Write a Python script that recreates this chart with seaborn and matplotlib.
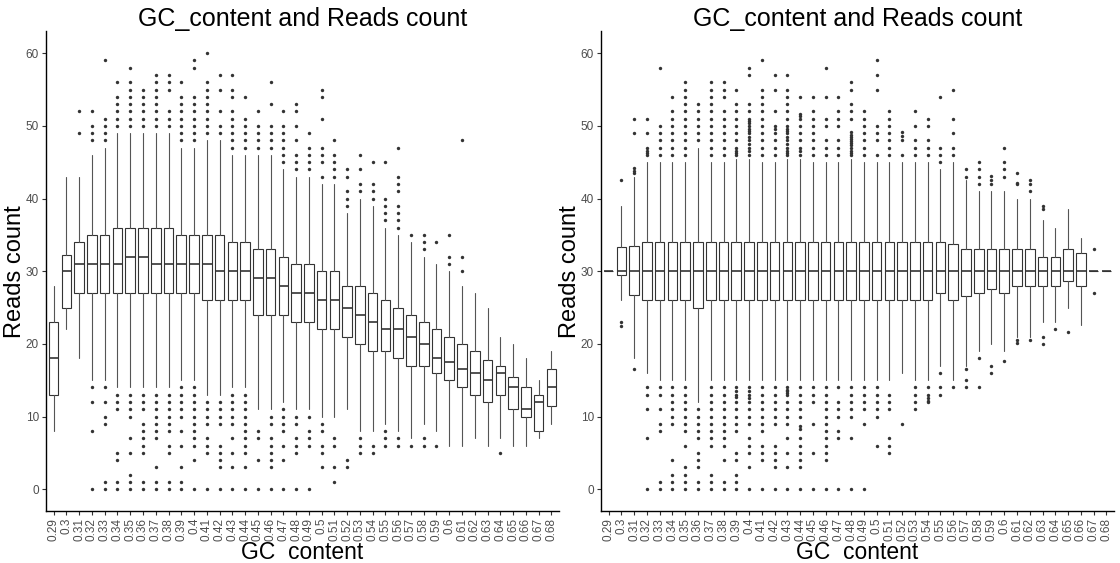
import numpy as np
import pandas as pd
import matplotlib
matplotlib.use("Agg")
import matplotlib.pyplot as plt
import seaborn as sns

# GC content categories (x axis)
gc_labels = ['0.29', '0.3', '0.31', '0.32', '0.33', '0.34', '0.35', '0.36', '0.37', '0.38',
             '0.39', '0.4', '0.41', '0.42', '0.43', '0.44', '0.45', '0.46', '0.47', '0.48',
             '0.49', '0.5', '0.51', '0.52', '0.53', '0.54', '0.55', '0.56', '0.57', '0.58',
             '0.59', '0.6', '0.61', '0.62', '0.63', '0.64', '0.65', '0.66', '0.67', '0.68']

# --- left panel: raw reads count per GC bin (box statistics)
raw_lo = [8, 22, 18, 15, 15, 14, 14, 14, 14, 14,
          15, 15, 13, 13, 14, 14, 11, 11, 12, 11,
          11, 10, 10, 11, 8, 8, 9, 8, 7, 9,
          8, 6, 6, 7, 6, 7, 6, 6, 7, 9]
raw_q1 = [13, 25, 27, 27, 27, 27, 27, 27, 27, 27,
          27, 27, 26, 26, 26, 26, 24, 24, 24, 23,
          23, 22, 22, 21, 20, 19, 19, 18, 17, 17,
          16, 15, 14, 13, 12, 13, 11, 10, 8, 11.5]
raw_med = [18, 30, 31, 31, 31, 31, 32, 32, 31, 31,
           31, 31, 31, 30, 30, 30, 29, 29, 28, 27,
           27, 26, 26, 25, 24, 23, 22, 22, 21, 20,
           18, 17.5, 16.5, 16, 15, 16, 14, 11, 12, 14]
raw_q3 = [23, 32.2, 34, 35, 35, 36, 36, 36, 36, 36,
          35, 35, 35, 35, 34, 34, 33, 33, 32, 31,
          31, 30, 30, 28, 28, 27, 26, 25, 24, 23,
          22, 21, 20, 19, 17.8, 17, 15.5, 14, 13, 16.5]
raw_hi = [28, 43, 43, 46, 47, 49, 49, 49, 49, 49,
          47, 47, 48, 48, 46, 46, 46, 46, 44, 43,
          43, 42, 42, 38, 40, 39, 36, 35, 34, 32,
          31, 30, 28, 27, 25, 21, 20, 18, 15, 19]
raw_out = [
    [], [], [52, 49],
    [52, 50, 49, 48, 14, 12, 8, 0],
    [59, 51, 50, 49, 48, 14, 12, 10, 9, 1, 0],
    [56, 54, 53, 52, 51, 50, 13, 12, 11, 5, 4, 1, 0],
    [58, 56, 55, 54, 53, 52, 51, 50, 13, 12, 11, 10, 7, 5, 2, 1, 0],
    [55, 54, 53, 52, 51, 50, 13, 12, 11, 9, 8, 7, 6, 5, 1, 0],
    [57, 56, 55, 54, 53, 52, 51, 50, 13, 12, 11, 10, 9, 8, 7, 3, 1, 0],
    [57, 56, 55, 52, 51, 50, 13, 12, 11, 10, 9, 8, 6, 5, 1, 0],
    [56, 54, 53, 52, 51, 50, 49, 48, 14, 13, 12, 11, 10, 8, 6, 3, 1, 0],
    [59, 58, 54, 53, 52, 51, 50, 49, 48, 14, 13, 12, 11, 10, 9, 8, 7, 6, 4, 0],
    [60, 56, 55, 54, 53, 52, 51, 50, 49, 12, 11, 10, 9, 7, 6, 5, 0],
    [57, 55, 52, 50, 49, 12, 11, 10, 9, 6, 5, 4, 3, 0],
    [57, 55, 54, 52, 51, 50, 49, 48, 47, 13, 12, 11, 10, 9, 7, 5, 3, 0],
    [54, 51, 50, 49, 48, 47, 13, 12, 11, 10, 9, 8, 7, 6, 5, 3, 0],
    [52, 50, 49, 48, 47, 8, 7, 4, 0],
    [56, 53, 50, 49, 48, 47, 10, 9, 7, 6, 5, 4, 3, 0],
    [52, 50, 49, 48, 47, 46, 45, 11, 10, 9, 8, 6, 4, 0],
    [53, 52, 50, 48, 46, 45, 44, 10, 9, 7, 6, 5, 0],
    [49, 47, 46, 45, 44, 10, 8, 7, 6, 0],
    [55, 54, 51, 47, 46, 45, 43, 9, 8, 6, 5, 3],
    [48, 46, 45, 44, 43, 7, 6, 3, 1],
    [44, 43, 41, 40, 39, 4, 3],
    [46, 44, 42, 41, 7, 6, 5],
    [45, 42, 41, 40, 6, 5],
    [45, 40, 39, 38, 37, 8, 7, 6],
    [47, 43, 42, 41, 39, 38, 37, 36, 7, 6],
    [35, 6],
    [35, 34, 33, 7, 6],
    [34, 6],
    [35, 32, 31],
    [48, 32, 30],
    [], [], [5], [], [], [], [],
]

# --- right panel: corrected reads count per GC bin
cor_lo = [30, 26, 18, 16, 15, 15, 15, 12, 15, 15,
          15, 15, 15, 15, 15, 15, 15, 15, 15, 15,
          15, 15, 15, 16, 15, 15, 17, 15, 17, 19,
          20, 19, 21, 21, 23, 23, 25, 22.6, 30, 30]
cor_q1 = [30, 29.45, 26.7, 26, 26, 26, 26, 25, 26, 26,
          26, 26, 26, 26, 26, 26, 26, 26, 26, 26,
          26, 26, 26, 26, 26, 26, 27, 26, 26.6, 27,
          27.6, 27, 28, 28, 28, 28, 28.6, 28, 30, 30]
cor_med = [30] * 40
cor_q3 = [30, 33.3, 33.4, 34, 34, 34, 34, 34, 34, 34,
          34, 34, 34, 34, 34, 34, 34, 34, 34, 34,
          34, 34, 34, 34, 34, 34, 34, 33.8, 33, 33,
          33, 33.1, 33, 33, 32, 32, 33, 32.5, 30, 30]
cor_hi = [30, 39, 43, 45, 45, 45, 45, 47, 45, 45,
          45.5, 45.5, 45, 45, 45.5, 45.5, 45, 45, 45, 45.5,
          45, 45, 45, 45, 45, 45, 44, 45, 42.5, 41,
          41, 41, 40, 40, 37, 36, 38.5, 34.5, 30, 30]
cor_out = [
    [],
    [42.5, 23, 22.5],
    [51, 49, 44.2, 43.8, 43.5, 16.5],
    [51, 49, 47, 46.6, 46.3, 46, 14, 13, 11, 7, 0],
    [58, 50, 49, 48, 47, 46, 14, 13, 11, 9, 8, 1, 0],
    [54, 52, 51, 50, 49, 48, 47, 46, 14, 13, 12, 11, 10, 9, 4, 2, 1, 0],
    [56, 55, 54, 53, 52, 51, 50, 49, 48, 47, 46, 14, 13, 12, 11, 10, 9, 8, 6, 3, 2, 1, 0],
    [53, 52, 51, 50, 49, 48, 11, 10, 9, 8, 7, 5, 4, 3, 1, 0],
    [56, 55, 54, 53, 52, 51, 50, 49, 48, 47, 46, 14, 13, 12, 11, 10, 9, 8, 7, 6, 2, 1, 0],
    [56, 55, 54, 52, 51, 50, 49, 48, 47, 46, 14, 13, 12, 11, 10, 9, 8, 7, 6, 4, 1, 0],
    [55, 53, 52, 51, 50, 49, 48, 47, 46.6, 46.3, 46, 14, 13.5, 13, 12.7, 12, 11, 10, 9, 8, 5, 4, 2, 1, 0],
    [58, 57, 53, 52, 51, 50.7, 50.4, 50, 49.6, 49.3, 49, 48.5, 48, 47.5, 47, 46.5, 46,
     14, 13.5, 13, 12.5, 12, 11, 10, 9, 7, 6, 5, 3, 0],
    [59, 55, 54, 53, 52, 51, 50, 49, 48, 47, 46, 14, 13, 12, 11, 10, 9, 8, 6, 5, 4, 0],
    [57, 55, 52, 50, 49.6, 49, 48, 47, 46, 14, 13, 12, 11, 10, 9, 6, 5, 4, 3, 0],
    [57, 55, 54, 53, 52, 51, 50, 49.6, 49.3, 49, 48.5, 48, 47.5, 47, 46.6, 46.3, 46,
     14, 13.7, 13.5, 13.2, 13, 12, 11, 10, 9, 7, 5, 3, 0],
    [54, 51.6, 51.3, 51, 50, 49, 48, 47, 46.5, 46, 14, 13, 12, 11, 10, 8.7, 8.3, 7, 6, 5, 4, 3, 0],
    [54, 52, 51, 50, 49, 48, 47, 46, 14, 13, 12, 9, 5, 0],
    [58, 54, 51, 50, 48, 47, 46, 14, 13, 12, 11, 10, 9, 8, 7, 6, 5, 4, 0],
    [54, 52, 51, 50, 48, 47, 46, 14, 12, 11, 10, 8, 7, 0],
    [56, 55, 53, 52, 51, 49.1, 48.8, 48.5, 48.2, 47.9, 47.6, 47.3, 47, 46.6, 46.3, 46,
     14, 13, 12, 11, 10, 7, 0],
    [52, 51, 50, 49, 48, 47, 46, 14, 13, 12, 11, 9, 0],
    [59, 57, 55, 50, 49, 48, 46, 14, 13, 12, 11, 10, 6],
    [52, 51, 50, 49, 48, 47, 46, 13, 12, 11, 7, 6, 5],
    [49.1, 48.6, 48, 46, 9],
    [52, 50, 48, 47, 46, 14, 13, 12, 11],
    [51, 50, 48, 47, 46, 14, 13, 12.6, 12.2, 12],
    [54, 47, 46, 45, 16, 14, 13],
    [55, 51, 49, 47, 46, 14],
    [44, 43, 16.6, 15, 14],
    [45, 44, 43, 42, 18, 14],
    [43.1, 42.6, 42, 17, 16],
    [47, 45, 44, 43, 17.6],
    [43.5, 42.2, 42, 20.6, 20.1],
    [42.5, 42, 41, 20.6],
    [39, 38.5, 21, 20],
    [22],
    [21.6],
    [],
    [33, 27],
    [],
]

EDGE = '#333333'


def draw_panel(ax, lo, q1, med, q3, hi, outliers):
    stats = [dict(whislo=a, q1=b, med=c, q3=d, whishi=e, fliers=[])
             for a, b, c, d, e in zip(lo, q1, med, q3, hi)]
    pos = np.arange(len(gc_labels))
    ax.bxp(stats, positions=pos, widths=0.75, showfliers=False, showcaps=False,
           patch_artist=True,
           boxprops=dict(facecolor='white', edgecolor=EDGE, linewidth=0.8),
           whiskerprops=dict(color='#555555', linewidth=0.8),
           medianprops=dict(color=EDGE, linewidth=1.2))

    # outliers as points
    rows = [(i, v) for i, vals in enumerate(outliers) for v in vals]
    df = pd.DataFrame(rows, columns=['pos', 'reads'])
    sns.scatterplot(data=df, x='pos', y='reads', ax=ax, color=EDGE, s=6,
                    linewidth=0, legend=False, zorder=3)

    ax.set_xlim(-0.6, len(gc_labels) - 0.4)
    ax.set_ylim(-3, 63)
    ax.set_xticks(pos)
    ax.set_xticklabels(gc_labels, rotation=90)
    ax.set_yticks([0, 10, 20, 30, 40, 50, 60])
    ax.set_title('GC_content and Reads count', fontsize=18, pad=2, color='black')
    ax.set_xlabel('GC  content', fontsize=16.5, labelpad=0, color='black')
    ax.set_ylabel('Reads count', fontsize=17, labelpad=0, color='black')
    ax.tick_params(axis='both', length=3, width=0.8, color=EDGE,
                   labelcolor='#4D4D4D', labelsize=8.5, pad=2)
    sns.despine(ax=ax)
    for sp in ['left', 'bottom']:
        ax.spines[sp].set_linewidth(1.0)
        ax.spines[sp].set_color('black')


sns.set_theme(style='ticks')
plt.rcParams['font.family'] = ['Liberation Sans', 'DejaVu Sans']

fig = plt.figure(figsize=(11.2, 5.63), dpi=100)
ax1 = fig.add_axes([46 / 1120, 52 / 563, 513 / 1120, 479.6 / 563])
ax2 = fig.add_axes([601 / 1120, 52 / 563, 513 / 1120, 479.6 / 563])

draw_panel(ax1, raw_lo, raw_q1, raw_med, raw_q3, raw_hi, raw_out)
draw_panel(ax2, cor_lo, cor_q1, cor_med, cor_q3, cor_hi, cor_out)

fig.savefig('out.png', dpi=100)
